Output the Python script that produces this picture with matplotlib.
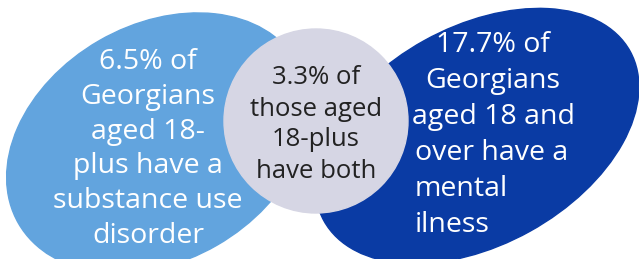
import matplotlib.pyplot as plt
from matplotlib.patches import Ellipse, Circle

# texts of the three regions
left_lines = ["6.5% of", "Georgians", "aged 18-", "plus have a", "substance use", "disorder"]
mid_lines = ["3.3% of", "those aged", "18-plus", "have both"]
right_center = ["17.7% of", "Georgians", "aged 18 and"]
right_left = ["over have a", "mental", "ilness"]

LIGHT = "#62a4de"
DARK = "#0a3ba4"
GREY = "#d6d6e4"

plt.rcParams["font.family"] = ["Open Sans", "DejaVu Sans"]

fig = plt.figure(figsize=(6.39, 2.59), dpi=100)
ax = fig.add_axes([0, 0, 1, 1])
ax.set_xlim(0, 639)
ax.set_ylim(259, 0)
ax.axis("off")

# y axis is flipped, so negative angle tilts up-right
ax.add_patch(Ellipse((158, 143), 322, 236, angle=-30, color=LIGHT, zorder=1))
ax.add_patch(Ellipse((477, 136), 350, 218, angle=-29, color=DARK, zorder=1))
ax.add_patch(Circle((316, 121), 92, color=GREY, zorder=2))

for i, s in enumerate(left_lines):
    ax.text(148, 62 + i * 34.8, s, color="white", fontsize=20.5,
            ha="center", va="center", zorder=3)

for i, s in enumerate(mid_lines):
    ax.text(316, 78 + i * 31, s, color="#222222", fontsize=18.5,
            ha="center", va="center", zorder=3)

for i, s in enumerate(right_center):
    ax.text(493, 45 + i * 36, s, color="white", fontsize=20.5,
            ha="center", va="center", zorder=3)
for i, s in enumerate(right_left):
    ax.text(415, 153 + i * 36, s, color="white", fontsize=20.5,
            ha="left", va="center", zorder=3)

plt.savefig("out.png", dpi=100)
